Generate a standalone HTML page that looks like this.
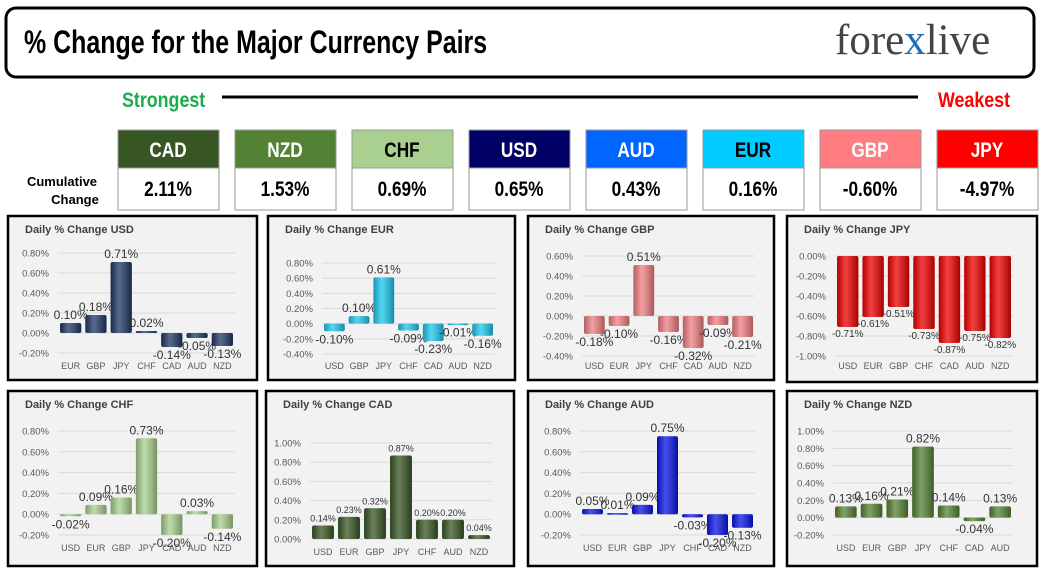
<!DOCTYPE html>
<html><head><meta charset="utf-8"><style>
body{margin:0;width:1045px;height:575px;background:#fff;overflow:hidden;font-family:"Liberation Sans",sans-serif}
.cond{font-family:"Liberation Sans Narrow","Liberation Sans",sans-serif;font-weight:bold}
</style></head><body>
<svg id="s" width="1045" height="575" xmlns="http://www.w3.org/2000/svg">
<defs>
<linearGradient id="cyl" x1="0" x2="1" y1="0" y2="0">
<stop offset="0" stop-color="#000" stop-opacity="0.25"/><stop offset="0.4" stop-color="#fff" stop-opacity="0.25"/><stop offset="1" stop-color="#000" stop-opacity="0.3"/>
</linearGradient>
</defs>
<rect x="6" y="8" width="1028" height="69" rx="10" fill="#fff" stroke="#000" stroke-width="3"/>
<text x="24" y="53" class="cond" font-size="32" transform="translate(24 0) scale(0.78 1) translate(-24 0)">% Change for the Major Currency Pairs</text>
<text x="835" y="54" font-family="Liberation Serif,serif" font-size="43" fill="#444">fore<tspan fill="#1a6fb5">x</tspan>live</text>
<text x="122" y="107" class="cond" font-size="21" fill="#1aab4b" transform="translate(122 0) scale(0.85 1) translate(-122 0)">Strongest</text>
<line x1="222" y1="97" x2="918" y2="97" stroke="#000" stroke-width="3"/>
<text x="938" y="107" class="cond" font-size="21" fill="#f00" transform="translate(938 0) scale(0.85 1) translate(-938 0)">Weakest</text>
<text x="62" y="186" class="cond" font-size="13" text-anchor="middle">Cumulative</text>
<text x="75" y="204" class="cond" font-size="13" text-anchor="middle">Change</text>
<g id="boxes"></g>
<g id="charts"></g>
</svg>
<script>
const NS="http://www.w3.org/2000/svg";
const boxCur=["CAD","NZD","CHF","USD","AUD","EUR","GBP","JPY"];
const boxVal=["2.11%","1.53%","0.69%","0.65%","0.43%","0.16%","-0.60%","-4.97%"];
const boxColor=["#375623","#548235","#a9d08e","#000066","#0066ff","#00ccff","#ff7c80","#ff0000"];
const boxText=["#fff","#fff","#000","#fff","#fff","#000","#fff","#fff"];

const usdCats=["EUR","GBP","JPY","CHF","CAD","AUD","NZD"], usdVals=[0.10,0.18,0.71,0.02,-0.14,-0.05,-0.13];
const eurCats=["USD","GBP","JPY","CHF","CAD","AUD","NZD"], eurVals=[-0.10,0.10,0.61,-0.09,-0.23,-0.01,-0.16];
const gbpCats=["USD","EUR","JPY","CHF","CAD","AUD","NZD"], gbpVals=[-0.18,-0.10,0.51,-0.16,-0.32,-0.09,-0.21];
const jpyCats=["USD","EUR","GBP","CHF","CAD","AUD","NZD"], jpyVals=[-0.71,-0.61,-0.51,-0.73,-0.87,-0.75,-0.82];
const chfCats=["USD","EUR","GBP","JPY","CAD","AUD","NZD"], chfVals=[-0.02,0.09,0.16,0.73,-0.20,0.03,-0.14];
const cadCats=["USD","EUR","GBP","JPY","CHF","AUD","NZD"], cadVals=[0.14,0.23,0.32,0.87,0.20,0.20,0.04];
const audCats=["USD","EUR","GBP","JPY","CHF","CAD","NZD"], audVals=[0.05,0.01,0.09,0.75,-0.03,-0.20,-0.13];
const nzdCats=["USD","EUR","GBP","JPY","CHF","CAD","AUD"], nzdVals=[0.13,0.16,0.21,0.82,0.14,-0.04,0.13];

function mk(tag,attrs,parent){const e=document.createElementNS(NS,tag);for(const k in attrs)e.setAttribute(k,attrs[k]);parent.appendChild(e);return e;}

const bx=document.getElementById('boxes');
boxCur.forEach((c,i)=>{
  const x=118+i*117;
  const h=mk('rect',{x:x,y:130,width:101,height:38,fill:boxColor[i],stroke:'#999','stroke-width':1},bx);
  
  
  const t=mk('text',{x:x+50,y:157,'text-anchor':'middle','font-size':21,fill:boxText[i],class:'cond',transform:`translate(${x+50} 0) scale(0.82 1) translate(${-(x+50)} 0)`},bx);t.textContent=c;
  
  
  const v=mk('rect',{x:x,y:168,width:101,height:42,fill:'#fff',stroke:'#999','stroke-width':1},bx);
  
  
  const vt=mk('text',{x:x+50,y:196,'text-anchor':'middle','font-size':21,class:'cond',transform:`translate(${x+50} 0) scale(0.82 1) translate(${-(x+50)} 0)`},bx);vt.textContent=boxVal[i];
  
  
});

const panels=[
 {n:'USD',cats:usdCats,vals:usdVals,box:[8,216,249,164],gl:58,gr:235,max:0.8,min:-0.2,yT:253,yB:353,ly:369,col:'#1f3864',lf:12},
 {n:'EUR',cats:eurCats,vals:eurVals,box:[268,216,247,164],gl:322,gr:495,max:0.8,min:-0.4,yT:263,yB:354,ly:369,col:'#1ec8ee',lf:12},
 {n:'GBP',cats:gbpCats,vals:gbpVals,box:[528,216,246,164],gl:582,gr:755,max:0.6,min:-0.4,yT:256,yB:356,ly:369,col:'#f07f82',lf:12},
 {n:'JPY',cats:jpyCats,vals:jpyVals,box:[787,216,250,166],gl:835,gr:1013,max:0,min:-1.0,yT:256,yB:356,ly:369,col:'#ee0000',lf:10},
 {n:'CHF',cats:chfCats,vals:chfVals,box:[8,391,249,175],gl:58,gr:235,max:0.8,min:-0.2,yT:431,yB:535,ly:551,col:'#a9d08e',lf:12},
 {n:'CAD',cats:cadCats,vals:cadVals,box:[266,391,248,175],gl:310,gr:492,max:1.0,min:0,yT:443,yB:539,ly:555,col:'#375623',lf:9},
 {n:'AUD',cats:audCats,vals:audVals,box:[528,391,246,175],gl:580,gr:755,max:0.8,min:-0.2,yT:431,yB:535,ly:551,col:'#0a14e6',lf:12},
 {n:'NZD',cats:nzdCats,vals:nzdVals,box:[787,391,250,175],gl:833,gr:1013,max:1.0,min:-0.2,yT:431,yB:535,ly:551,col:'#548235',lf:12}
];
const cg=document.getElementById('charts');
panels.forEach(p=>{
  const g=mk('g',{},cg);
  
  
  const [bx0,by0,bw,bh]=p.box;
  const r=mk('rect',{x:bx0,y:by0,width:bw,height:bh,fill:'#f2f2f2',stroke:'#000','stroke-width':2.5},g);
  
  
  const t=mk('text',{x:bx0+17,y:by0+17,'font-size':11,'font-weight':'bold',fill:'#404040'},g);t.textContent='Daily % Change '+p.n;
  
  
  const y=v=>p.yT+(p.max-v)/(p.max-p.min)*(p.yB-p.yT);
  for(let v=p.max;v>=p.min-1e-9;v-=0.2){
    const yy=y(v);
    const l=mk('line',{x1:p.gl,x2:p.gr,y1:yy,y2:yy,stroke:'#d9d9d9','stroke-width':1},g);
    
    
    const tt=mk('text',{x:p.gl-9,y:yy+3.5,'text-anchor':'end','font-size':9.5,fill:'#595959'},g);
    tt.textContent=(Math.abs(v)<1e-9?0:v).toFixed(2)+'%';
    
    
  }
  const band=(p.gr-p.gl)/p.cats.length, bwid=band*0.84, y0=y(0);
  p.cats.forEach((c,i)=>{
    const cx=p.gl+band*(i+0.5), v=p.vals[i], yv=y(v);
    const top=Math.min(yv,y0), h=Math.max(Math.abs(yv-y0),1.5);
    const b=mk('rect',{x:cx-bwid/2,y:top,width:bwid,height:h,fill:p.col,rx:2},g);
    
    
    const s=mk('rect',{x:cx-bwid/2,y:top,width:bwid,height:h,fill:'url(#cyl)',rx:2},g);
    
    
    const lab=mk('text',{x:cx,y:v>=0?yv-4:yv+p.lf,'text-anchor':'middle','font-size':p.lf,fill:'#333'},g);
    lab.textContent=v.toFixed(2)+'%';
    
    
    const cl=mk('text',{x:cx,y:p.ly,'text-anchor':'middle','font-size':9,fill:'#595959'},g);
    cl.textContent=c;
    
    
  });
});
</script>
</body></html>
